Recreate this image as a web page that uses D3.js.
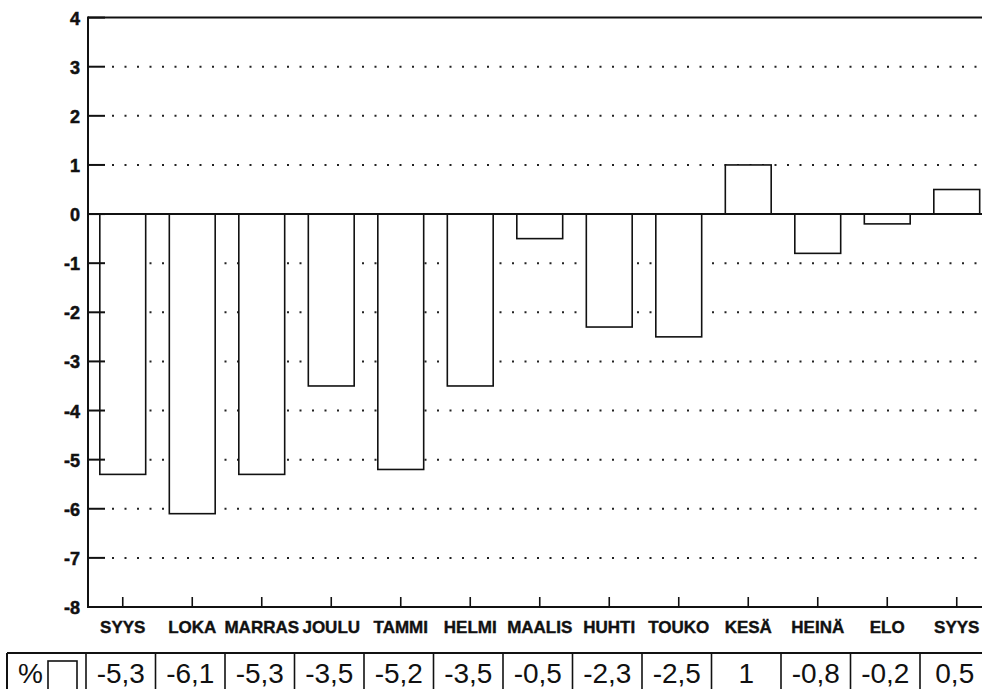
<!DOCTYPE html>
<html>
<head>
<meta charset="utf-8">
<script src="https://cdn.jsdelivr.net/npm/d3@7"></script>
<style>
html,body{margin:0;padding:0;background:#fff;}
svg{display:block;font-family:"Liberation Sans",Arial,Helvetica,sans-serif;}
</style>
</head>
<body>
<svg id="chart" width="982" height="689"></svg>
<script>
const months = ["SYYS","LOKA","MARRAS","JOULU","TAMMI","HELMI","MAALIS","HUHTI","TOUKO","KESÄ","HEINÄ","ELO","SYYS"];
const values = [-5.3,-6.1,-5.3,-3.5,-5.2,-3.5,-0.5,-2.3,-2.5,1,-0.8,-0.2,0.5];
const tableLabels = ["-5,3","-6,1","-5,3","-3,5","-5,2","-3,5","-0,5","-2,3","-2,5","1","-0,8","-0,2","0,5"];
const yTicks = [4,3,2,1,0,-1,-2,-3,-4,-5,-6,-7,-8];
const gridTicks = [3,2,1,-1,-2,-3,-4,-5,-6,-7];

(function(){
const W = 982, H = 689;
const mLeft = 88, mTop = 17.6, mBottom = 607;
const step = 69.5;
const svg = d3.select("#chart");

const x = d3.scaleBand().domain(d3.range(months.length)).range([mLeft, mLeft + step*months.length]).padding(0);
const bw = x.bandwidth();
const barW = bw*0.66;
const y = d3.scaleLinear().domain([-8,4]).range([mBottom, mTop]);

// dotted gridlines
svg.append("g").selectAll("line").data(gridTicks).join("line")
  .attr("x1", mLeft+24).attr("x2", W)
  .attr("y1", d=>y(d)).attr("y2", d=>y(d))
  .attr("stroke","#222").attr("stroke-width",2)
  .attr("stroke-dasharray","2 10.5");

// bars
svg.append("g").selectAll("rect").data(values).join("rect")
  .attr("x",(d,i)=>x(i)+bw/2-barW/2)
  .attr("width",barW)
  .attr("y",d=>y(Math.max(0,d)))
  .attr("height",d=>Math.abs(y(d)-y(0)))
  .attr("fill","#fff").attr("stroke","#111").attr("stroke-width",1.6);

// zero line
svg.append("line").attr("x1",mLeft).attr("x2",W).attr("y1",y(0)).attr("y2",y(0))
  .attr("stroke","#111").attr("stroke-width",2);
// top border
svg.append("line").attr("x1",mLeft).attr("x2",W).attr("y1",y(4)).attr("y2",y(4))
  .attr("stroke","#111").attr("stroke-width",2);
// bottom axis
svg.append("line").attr("x1",mLeft).attr("x2",W).attr("y1",y(-8)).attr("y2",y(-8))
  .attr("stroke","#111").attr("stroke-width",2);
// left axis
svg.append("line").attr("x1",mLeft).attr("x2",mLeft).attr("y1",y(4)-1).attr("y2",y(-8)+1)
  .attr("stroke","#111").attr("stroke-width",2);

// y ticks (inward) and labels
const yg = svg.append("g");
yg.selectAll("line").data(yTicks).join("line")
  .attr("x1",mLeft).attr("x2",mLeft+17)
  .attr("y1",d=>y(d)).attr("y2",d=>y(d))
  .attr("stroke","#111").attr("stroke-width",2);
yg.selectAll("text").data(yTicks).join("text")
  .attr("x",mLeft-8).attr("y",d=>y(d)+7)
  .attr("text-anchor","end").attr("font-size",18).attr("font-weight","bold")
  .attr("stroke","#111").attr("stroke-width",0.5)
  .attr("fill","#111").text(d=>d);

// x ticks (inward, upward)
const xg = svg.append("g");
xg.selectAll("line").data(months).join("line")
  .attr("x1",(d,i)=>x(i)+bw/2).attr("x2",(d,i)=>x(i)+bw/2)
  .attr("y1",mBottom).attr("y2",mBottom-10)
  .attr("stroke","#111").attr("stroke-width",1.6);
xg.selectAll("text").data(months).join("text")
  .attr("x",(d,i)=>x(i)+bw/2).attr("y",633)
  .attr("text-anchor","middle").attr("font-size",17).attr("font-weight","bold")
  .attr("stroke","#111").attr("stroke-width",0.4)
  .attr("fill","#111").text(d=>d);

// table
const tg = svg.append("g");
const tTop = 653, off = -2;
tg.append("line").attr("x1",7).attr("x2",W).attr("y1",tTop).attr("y2",tTop)
  .attr("stroke","#111").attr("stroke-width",2);
tg.append("line").attr("x1",7).attr("x2",7).attr("y1",tTop).attr("y2",H)
  .attr("stroke","#111").attr("stroke-width",2);
tg.selectAll("line.div").data(months).join("line").attr("class","div")
  .attr("x1",(d,i)=>x(i)+off).attr("x2",(d,i)=>x(i)+off)
  .attr("y1",tTop).attr("y2",H)
  .attr("stroke","#111").attr("stroke-width",1.6);
tg.selectAll("text.val").data(tableLabels).join("text").attr("class","val")
  .attr("x",(d,i)=>x(i)+off+bw/2).attr("y",683)
  .attr("text-anchor","middle").attr("font-size",28)
  .attr("fill","#111").text(d=>d);
tg.append("text").attr("x",18).attr("y",683).attr("font-size",28).attr("fill","#111").text("%");
tg.append("rect").attr("x",48).attr("y",661).attr("width",29).attr("height",30)
  .attr("fill","#fff").attr("stroke","#111").attr("stroke-width",1.6);
})();
</script>
</body>
</html>
